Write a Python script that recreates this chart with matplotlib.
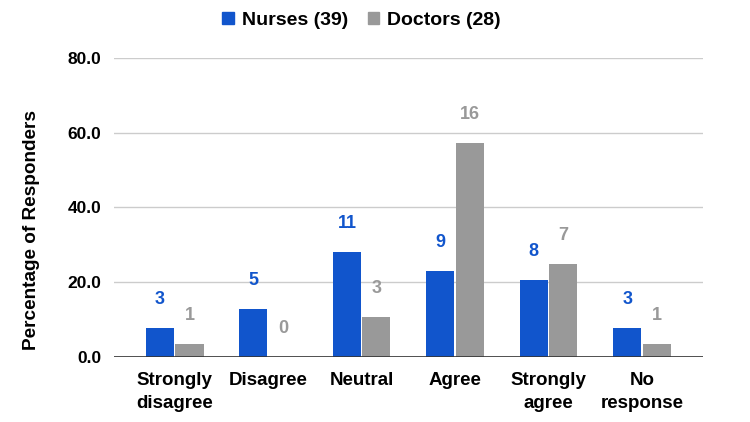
import numpy as np
import matplotlib.pyplot as plt
from matplotlib.patches import Patch

categories = ['Strongly\ndisagree', 'Disagree', 'Neutral', 'Agree', 'Strongly\nagree', 'No\nresponse']
nurses_pct = [7.7, 12.8, 28.2, 23.1, 20.5, 7.7]
doctors_pct = [3.6, 0.0, 10.7, 57.1, 25.0, 3.6]
nurses_n = [3, 5, 11, 9, 8, 3]
doctors_n = [1, 0, 3, 16, 7, 1]
series_names = ['Nurses (39)', 'Doctors (28)']
yticks = [0, 20, 40, 60, 80]

blue = '#1155cc'
gray = '#999999'

plt.rcParams['font.family'] = ['Liberation Sans', 'DejaVu Sans']
plt.rcParams['font.weight'] = 'bold'

fig = plt.figure(figsize=(7.5, 4.22), dpi=100)
ax = fig.add_axes([0.152, 0.154, 0.785, 0.709])

x = np.arange(len(categories))
w = 0.3
b1 = ax.bar(x - w / 2 - 0.008, nurses_pct, w, color=blue, zorder=3)
b2 = ax.bar(x + w / 2 + 0.008, doctors_pct, w, color=gray, zorder=3)

for bars, counts, col in [(b1, nurses_n, blue), (b2, doctors_n, gray)]:
    for bar, c in zip(bars, counts):
        ax.annotate(str(c), (bar.get_x() + bar.get_width() / 2, bar.get_height()),
                    xytext=(0, 20.5), textcoords='offset points',
                    ha='center', va='center', color=col,
                    fontsize=13, fontweight='bold')

ax.set_xlim(-0.65, 5.65)
ax.set_ylim(0, 80)
ax.set_yticks(yticks)
ax.set_yticklabels([f'{v:.1f}' for v in yticks], fontsize=12.5, fontweight='bold')
ax.set_xticks(x)
ax.set_xticklabels(categories, fontsize=13.5, fontweight='bold', linespacing=1.45)
ax.tick_params(axis='both', length=0)
ax.tick_params(axis='y', pad=9)
ax.tick_params(axis='x', pad=11)
for s in ax.spines.values():
    s.set_visible(False)
ax.grid(axis='y', color='#cccccc', linewidth=1, zorder=0)
ax.axhline(0, color='#333333', linewidth=1.2, zorder=4)

ax.set_ylabel('Percentage of Responders', fontsize=13.7, fontweight='bold')
ax.yaxis.set_label_coords(-0.125, 0.425)

handles = [Patch(color=blue), Patch(color=gray)]
fig.legend(handles, series_names, loc='center', bbox_to_anchor=(0.482, 0.952),
           ncol=2, frameon=False, handlelength=0.6, handleheight=0.6,
           handletextpad=0.4, columnspacing=1.0, prop={'weight': 'bold', 'size': 14})

fig.savefig('out.png', dpi=100)
